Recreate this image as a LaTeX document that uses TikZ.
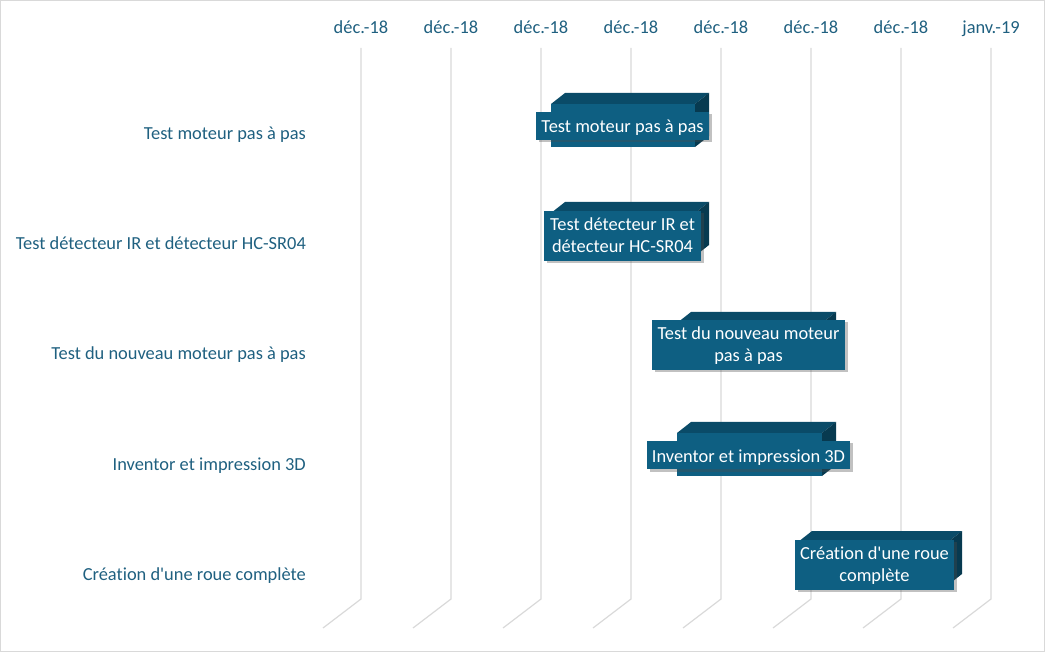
\documentclass[tikz,border=0pt]{standalone}
\usepackage{fontspec}
\setmainfont{Carlito}[Ligatures=NoCommon]
\usetikzlibrary{shadows}
\definecolor{txt}{HTML}{1F6080}
\definecolor{front}{HTML}{0E5F82}
\definecolor{topf}{HTML}{0A4B68}
\definecolor{rightf}{HTML}{073A50}
\definecolor{grid}{HTML}{D9D9D9}
\begin{document}
\begin{tikzpicture}[x=1pt,y=-1pt,
  gridline/.style={grid, line width=1.2pt},
  axislabel/.style={text=txt, font=\fontsize{18.4}{22}\selectfont, inner sep=0pt, anchor=base},
  catlabel/.style={text=txt, font=\fontsize{18.4}{22}\selectfont, anchor=base east, inner sep=0pt},
  barlabel/.style={fill=front, text=white, font=\fontsize{18.4}{22}\selectfont, align=center,
    inner sep=0pt, drop shadow={shadow xshift=2.5pt, shadow yshift=-2.5pt, opacity=0.35, fill=black!70}},
  oneline/.style={text height=21pt, text depth=7pt},
  twoline/.style={text height=42pt, text depth=8pt},
  frontface/.style={fill=front},
  topface/.style={fill=topf},
  rightface/.style={fill=rightf}
]
\useasboundingbox (0,0) rectangle (1045,652);
\draw[grid, line width=1pt] (0.5,0.5) rectangle (1044.5,651.5);
% gridlines and axis labels
\foreach \i/\lab in {0/déc.-18,1/déc.-18,2/déc.-18,3/déc.-18,4/déc.-18,5/déc.-18,6/déc.-18,7/janv.-19}{
  \pgfmathsetmacro{\gx}{361+90*\i}
  \coordinate (gt\i) at (\gx,48);
  \coordinate (gb\i) at (\gx,599);
  \coordinate (gd\i) at (\gx-38,628);
  \draw[gridline] (gt\i) -- (gb\i) -- (gd\i);
  \node[axislabel] (ax\i) at (\gx,34) {\lab};
}
% category labels
\node[catlabel] (c1) at (306,140) {Test moteur pas à pas};
\node[catlabel] (c2) at (306,250) {Test détecteur IR et détecteur HC-SR04};
\node[catlabel] (c3) at (306,360) {Test du nouveau moteur pas à pas};
\node[catlabel] (c4) at (306,470) {Inventor et impression 3D};
\node[catlabel] (c5) at (306,580) {Création d\textquotesingle une roue complète};
% 3D bars: #1 x1, #2 x2, #3 y top, #4 y bottom
\newcommand{\tdbar}[4]{%
  \fill[frontface] (#1,#3) rectangle (#2,#4);
  \fill[topface] (#1,#3) -- (#1+14,#3-11) -- (#2+14,#3-11) -- (#2,#3) -- cycle;
  \fill[rightface] (#2,#3) -- (#2+14,#3-11) -- (#2+14,#4-11) -- (#2,#4) -- cycle;
}
\tdbar{551}{695}{104}{147}
\tdbar{551}{695}{213}{256}
\tdbar{677}{822}{323}{366}
\tdbar{677}{822}{433}{476}
\tdbar{798}{948}{542}{585}
% bar labels
\node[barlabel, oneline, minimum width=173pt, minimum height=28pt] (b1) at (622.5,126) {Test moteur pas à pas};
\node[barlabel, twoline, minimum width=157pt, minimum height=50pt] (b2) at (622.5,236) {Test détecteur IR et\\détecteur HC-SR04};
\node[barlabel, twoline, minimum width=193pt, minimum height=50pt] (b3) at (748.5,345) {Test du nouveau moteur\\pas à pas};
\node[barlabel, oneline, minimum width=203pt, minimum height=28pt] (b4) at (748.5,455) {Inventor et impression 3D};
\node[barlabel, twoline, minimum width=159pt, minimum height=49pt] (b5) at (874.5,564.5) {Création d\textquotesingle une roue\\complète};
\end{tikzpicture}
\end{document}
